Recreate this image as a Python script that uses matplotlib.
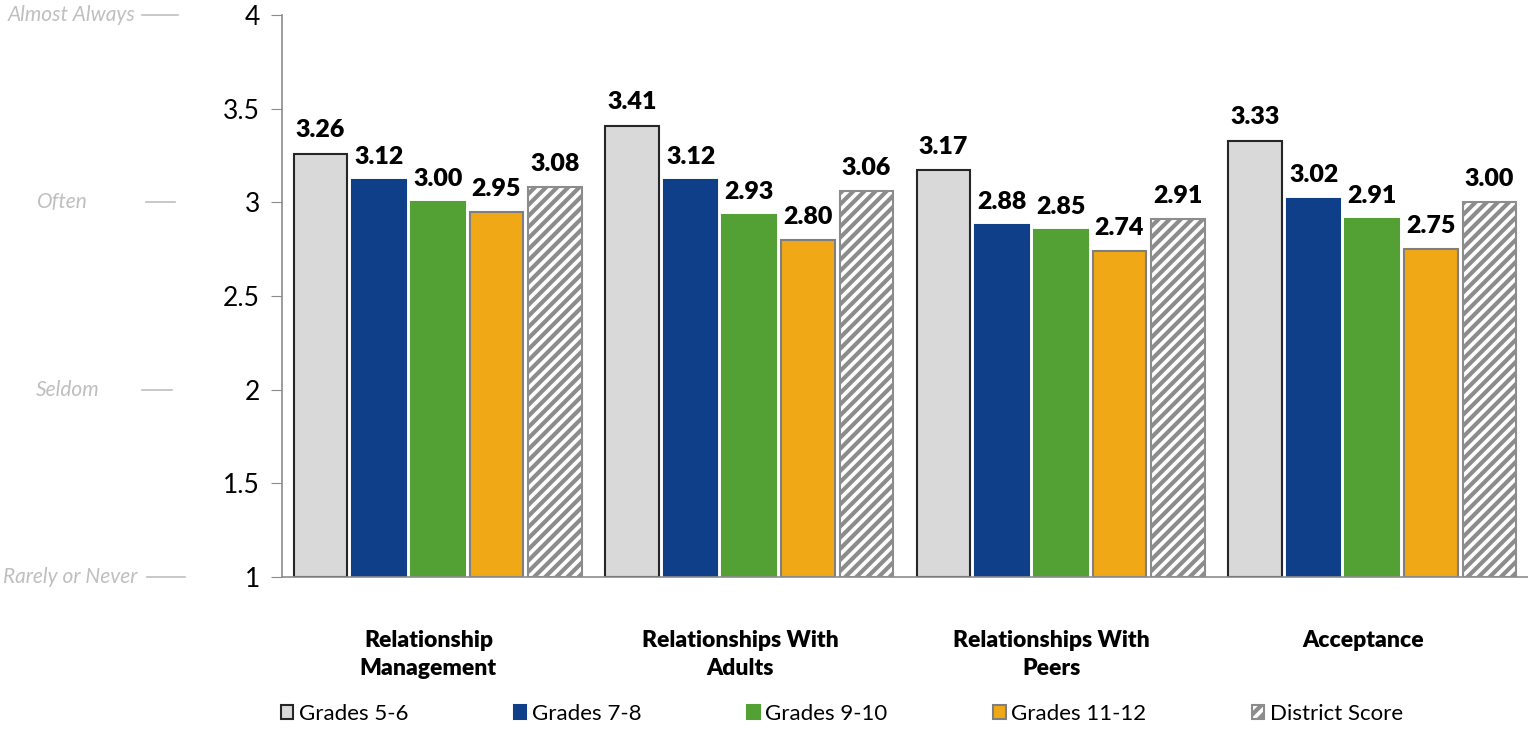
import matplotlib
matplotlib.use("Agg")
import matplotlib.pyplot as plt
import numpy as np

plt.rcParams['font.family'] = ['Lato', 'DejaVu Sans']
plt.rcParams['hatch.color'] = '#8C8C8C'
plt.rcParams['hatch.linewidth'] = 3.0

categories = ["Relationship\nManagement", "Relationships With\nAdults", "Relationships With\nPeers", "Acceptance"]
series_names = ["Grades 5-6", "Grades 7-8", "Grades 9-10", "Grades 11-12", "District Score"]
grades_5_6 = [3.26, 3.41, 3.17, 3.33]
grades_7_8 = [3.12, 3.12, 2.88, 3.02]
grades_9_10 = [3.00, 2.93, 2.85, 2.91]
grades_11_12 = [2.95, 2.80, 2.74, 2.75]
district = [3.08, 3.06, 2.91, 3.00]
yticks = [1, 1.5, 2, 2.5, 3, 3.5, 4]
scale_labels = ["Rarely or Never", "Seldom", "Often", "Almost Always"]
scale_values = [1, 2, 3, 4]

series = [grades_5_6, grades_7_8, grades_9_10, grades_11_12, district]
faces = ['#D9D9D9', '#0F3F89', '#53A035', '#F1A817', 'white']
edges = ['#262626', '#0F3F89', '#53A035', '#7F7F7F', '#8C8C8C']
hatches = [None, None, None, None, '///']

fig = plt.figure(figsize=(15.28, 7.29), dpi=100)
ax = fig.add_axes([282/1528, 1-577/729, 1-282/1528, (577-15)/729])

x = np.arange(len(categories)) + 0.5
pitch = 0.188
width = 0.172
handles = []
for i, (vals, fc, ec, h) in enumerate(zip(series, faces, edges, hatches)):
    pos = x + (i - 2) * pitch
    b = ax.bar(pos, np.array(vals) - 1, width, bottom=1, color=fc, edgecolor=ec,
               linewidth=1.5, hatch=h, label=series_names[i], zorder=2)
    handles.append(b)
    for px, v in zip(pos, vals):
        ax.text(px, v + 0.065, f"{v:.2f}", ha='center', va='bottom',
                fontsize=18, fontweight='heavy', color='black')

ax.set_xlim(0, 4)
ax.set_ylim(1, 4)
ax.set_yticks(yticks)
ax.set_yticklabels([f"{t:g}" for t in yticks], fontsize=19)
ax.tick_params(axis='y', length=8, color='#8C8C8C', pad=8)
ax.set_xticks(x - 0.03)
ax.set_xticklabels(categories, fontsize=16.5, fontweight='heavy', linespacing=1.45)
ax.tick_params(axis='x', length=0, pad=38)
for s in ['top', 'right']:
    ax.spines[s].set_visible(False)
for s in ['left', 'bottom']:
    ax.spines[s].set_color('#8C8C8C')
    ax.spines[s].set_linewidth(1.2)

# scale annotations on the left
label_x = {"Almost Always": (135, 142, 178), "Often": (88, 146, 175),
           "Seldom": (99, 142, 172), "Rarely or Never": (137, 147, 185)}
for lab, val in zip(scale_labels, scale_values):
    yy = ax.transData.transform((0, val))[1]
    tx, l0, l1 = label_x[lab]
    fig.text(tx / 1528, yy / 729, lab, ha='right', va='center', fontsize=15,
             style='italic', color='#BFBFBF')
    fig.add_artist(plt.Line2D([l0 / 1528, l1 / 1528], [yy / 729, yy / 729],
                              color='#BFBFBF', linewidth=1.2))

leg = fig.legend(handles=handles, loc='center', ncol=5, frameon=False,
                 bbox_to_anchor=(272/1528, 1-714/729, (1412-272)/1528, 0),
                 mode='expand', fontsize=16, handlelength=0.55, handleheight=0.55,
                 handletextpad=0.25, borderaxespad=0)

fig.savefig("out.png", dpi=100)
